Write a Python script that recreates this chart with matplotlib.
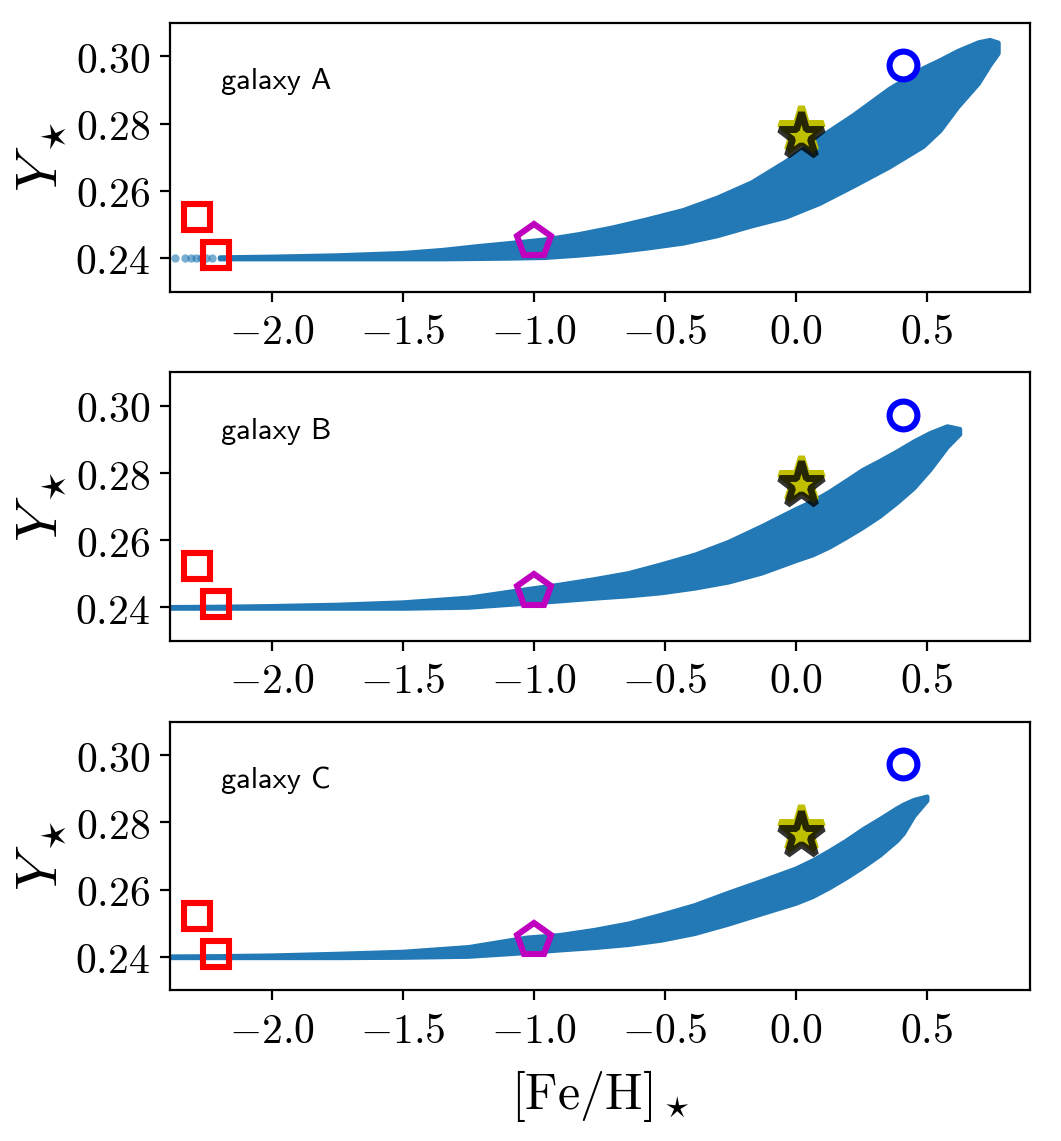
import numpy as np
import matplotlib
matplotlib.use("Agg")
import matplotlib.pyplot as plt
from matplotlib.ticker import FuncFormatter

plt.rcParams['mathtext.fontset'] = 'cm'

# --- datos ---
galaxias = ["galaxy A", "galaxy B", "galaxy C"]

# envolventes de la nube de puntos (Fe/H, Y min, Y max)
feh_A = [-2.20, -2.00, -1.75, -1.50, -1.35, -1.22, -1.10, -0.96, -0.83, -0.70, -0.57, -0.43, -0.30,
         -0.17, -0.04, 0.09, 0.22, 0.355, 0.486, 0.55, 0.617, 0.696, 0.74, 0.772]
ymax_A = [0.2403, 0.2405, 0.2409, 0.2416, 0.2425, 0.2436, 0.2445, 0.2456, 0.2472, 0.2492, 0.2516, 0.2544, 0.2581,
          0.2626, 0.2688, 0.2760, 0.2827, 0.2904, 0.2966, 0.2990, 0.3017, 0.3043, 0.3050, 0.3042]
ymin_A = [0.2398, 0.2398, 0.2398, 0.2398, 0.2398, 0.2399, 0.2400, 0.2402, 0.2409, 0.2418, 0.2430, 0.2445, 0.2467,
          0.2496, 0.2522, 0.2563, 0.2615, 0.2671, 0.2733, 0.2780, 0.2850, 0.2920, 0.2975, 0.3010]
# puntos sueltos a la izquierda de galaxy A
feh_A_sueltos = [-2.37, -2.33, -2.31, -2.29, -2.27, -2.25, -2.23]
y_A_sueltos = [0.2400, 0.2400, 0.2400, 0.2400, 0.2400, 0.2400, 0.2400]

feh_B = [-2.40, -2.20, -2.00, -1.75, -1.50, -1.25, -1.03, -0.90, -0.77, -0.64, -0.515, -0.386, -0.258,
         -0.13, 0.0, 0.064, 0.127, 0.19, 0.254, 0.32, 0.385, 0.45, 0.512, 0.577, 0.625]
ymax_B = [0.2402, 0.2403, 0.2405, 0.2409, 0.2416, 0.2430, 0.2455, 0.2469, 0.2485, 0.2503, 0.2529, 0.2558, 0.2596,
          0.2643, 0.2694, 0.2717, 0.2745, 0.2777, 0.2810, 0.2837, 0.2865, 0.2895, 0.2920, 0.2940, 0.2932]
ymin_B = [0.2398, 0.2398, 0.2398, 0.2398, 0.2398, 0.2401, 0.2413, 0.2420, 0.2428, 0.2435, 0.2444, 0.2458, 0.2476,
          0.2503, 0.2540, 0.2557, 0.2580, 0.2608, 0.2638, 0.2672, 0.2712, 0.2756, 0.2811, 0.2878, 0.2916]

feh_C = [-2.40, -2.20, -2.00, -1.75, -1.50, -1.25, -1.03, -0.90, -0.77, -0.64, -0.515, -0.386, -0.258,
         -0.13, 0.0, 0.064, 0.127, 0.19, 0.254, 0.32, 0.385, 0.41, 0.45, 0.50]
ymax_C = [0.2402, 0.2403, 0.2405, 0.2410, 0.2416, 0.2430, 0.2458, 0.2466, 0.2481, 0.2500, 0.2526, 0.2555, 0.2592,
          0.2627, 0.2664, 0.2688, 0.2716, 0.2746, 0.2780, 0.2811, 0.2843, 0.2854, 0.2868, 0.2878]
ymin_C = [0.2398, 0.2398, 0.2398, 0.2398, 0.2399, 0.2402, 0.2413, 0.2421, 0.2428, 0.2437, 0.2450, 0.2470, 0.2498,
          0.2529, 0.2560, 0.2580, 0.2606, 0.2635, 0.2667, 0.2703, 0.2746, 0.2768, 0.2820, 0.2866]

nubes = [(feh_A, ymin_A, ymax_A), (feh_B, ymin_B, ymax_B), (feh_C, ymin_C, ymax_C)]

# objetos de referencia (iguales en los tres paneles)
cuadros_feh = [-2.285, -2.215]
cuadros_y = [0.2522, 0.2409]
pentagono = (-1.0, 0.2450)
circulo = (0.408, 0.2973)
estrella = (0.02, 0.2772)

xticks = [-2.0, -1.5, -1.0, -0.5, 0.0, 0.5]
yticks = [0.24, 0.26, 0.28, 0.30]


fig, axes = plt.subplots(3, 1, figsize=(5.305, 5.705), dpi=200)
fig.subplots_adjust(left=0.160, right=0.971, top=0.980, bottom=0.132, hspace=0.30)

azul = '#2279b5'
for i, ax in enumerate(axes):
    feh, ylo, yhi = nubes[i]
    ax.fill_between(feh, ylo, yhi, color=azul, edgecolor=azul, lw=1.6, zorder=1)
    if i == 0:
        ax.scatter(feh_A_sueltos, y_A_sueltos, s=9, color='C0', alpha=0.6, lw=0, zorder=1)

    ax.plot(cuadros_feh, cuadros_y, 's', ms=9.5, mfc='none', mec='r', mew=2.2, zorder=3)
    ax.plot(*pentagono, 'p', ms=12.5, mfc='none', mec='m', mew=2.2, zorder=3)
    ax.plot(*circulo, 'o', ms=10, mfc='none', mec='b', mew=2.2, zorder=3)
    # estrella: una con borde amarillo y otra con borde negro encima
    ax.plot(estrella[0], estrella[1] + 0.0008, '*', ms=17, mfc='y', mec='y', mew=2.5, zorder=3)
    ax.plot(estrella[0], estrella[1] - 0.0008, '*', ms=17, mfc='y', mec='k', mew=2.5, alpha=0.8, zorder=4)

    ax.text(0.06, 0.78, galaxias[i], transform=ax.transAxes, fontsize=11,
            family='cmss10', va='center', ha='left')

    ax.set_xlim(-2.39, 0.895)
    ax.set_ylim(0.23, 0.31)
    ax.set_xticks(xticks)
    ax.set_yticks(yticks)
    ax.xaxis.set_major_formatter(FuncFormatter(lambda v, p: r"$%.1f$" % v))
    ax.yaxis.set_major_formatter(FuncFormatter(lambda v, p: r"$%.2f$" % v))
    ax.tick_params(labelsize=15)
    ax.set_ylabel(r"$Y_\star$", fontsize=21, labelpad=2)

axes[-1].set_xlabel(r"$[\mathrm{Fe/H}]_\star$", fontsize=18, labelpad=6)

fig.savefig("out.png", dpi=200)
